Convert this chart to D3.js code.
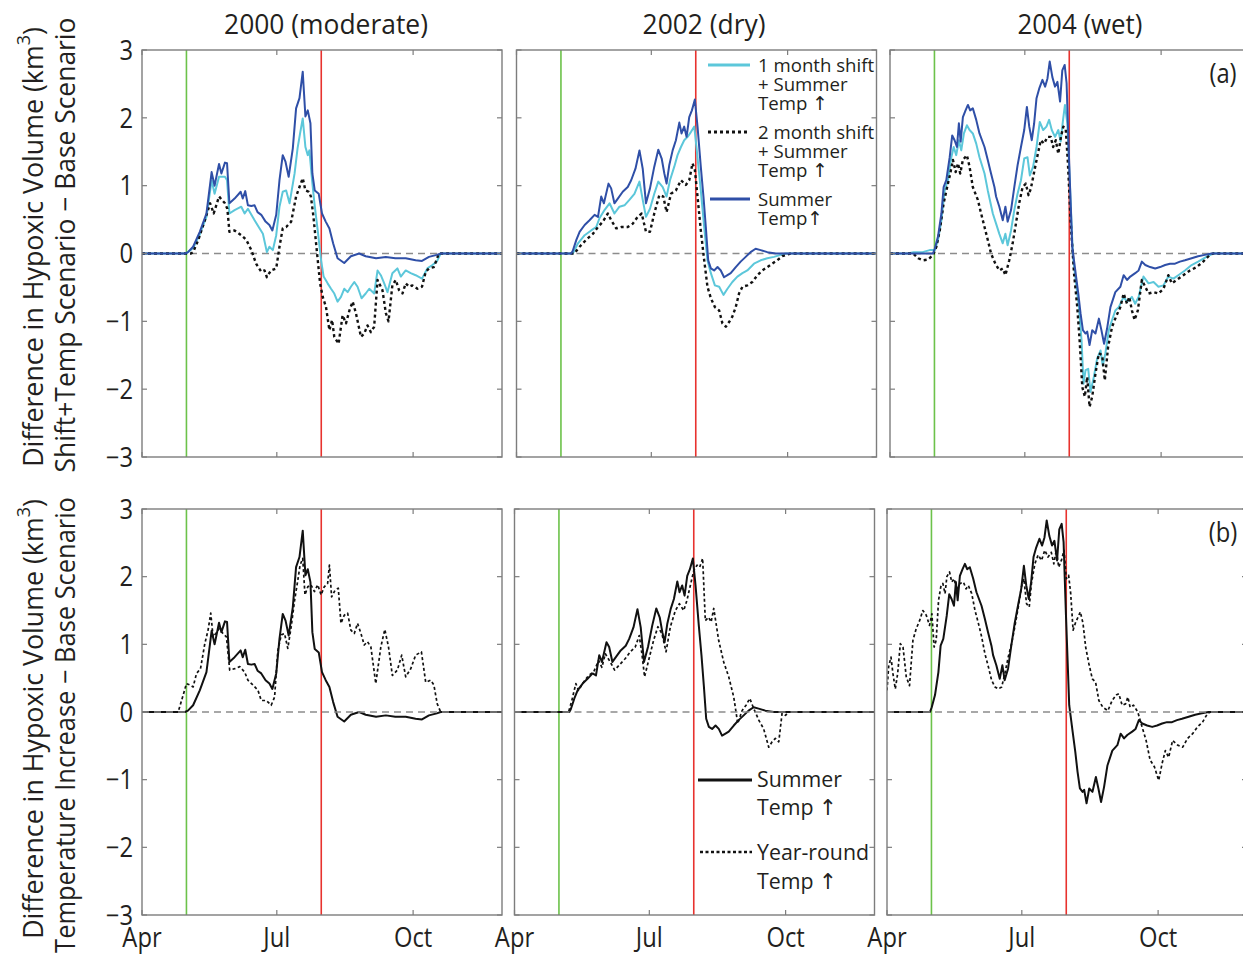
<!DOCTYPE html>
<html>
<head>
<meta charset="utf-8">
<script src="https://cdn.jsdelivr.net/npm/d3@7"></script>
<style>
  body { margin: 0; background: #fff; }
  svg text { font-family: "Open Sans", "DejaVu Sans", sans-serif; fill: #231f20; }
</style>
</head>
<body>
<svg id="chart" width="1243" height="955"></svg>
<script>
// ---- Axis settings (days counted from 1 April) ----
const xTickDays = [0, 91, 183];
const xTickLabels = ["Apr", "Jul", "Oct"];
const yTicks = [-3, -2, -1, 0, 1, 2, 3];
const yearTitles = ["2000 (moderate)", "2002 (dry)", "2004 (wet)"];
const onsetDay = 30;   // green marker
const endDay = 121;    // red marker

// ---- Difference in hypoxic volume (km^3), [day since Apr 1, value] ----
// Summer temperature increase only
const summer2000 = [[0,0],[29,0],[31,0.02],[34.5,0.1],[39,0.32],[43.5,0.59],[47,1.2],[49,1.0],[52,1.32],[53.6,1.18],[56,1.34],[57.4,1.33],[59,0.74],[62.5,0.81],[66.6,0.91],[68,0.81],[69.7,0.92],[71.5,0.71],[73.8,0.70],[76,0.71],[78,0.61],[80.5,0.57],[83.4,0.47],[86,0.42],[88,0.34],[90.6,0.57],[92.8,1.08],[95,1.45],[96.9,1.35],[99,1.13],[101.8,1.55],[104,2.14],[106.3,2.29],[108.5,2.68],[110.3,2.02],[111.9,2.11],[113.7,1.92],[115,1.18],[116.6,0.93],[119.3,0.88],[121.5,0.59],[124,0.47],[126.5,0.37],[129,0.15],[132,-0.07],[136.5,-0.14],[141,-0.04],[146.6,0],[151,-0.04],[158,-0.07],[164.6,-0.05],[171,-0.07],[178,-0.07],[184.7,-0.1],[189,-0.11],[193.7,-0.05],[199,-0.02],[201.6,0],[243,0]];
const summer2002 = [[0,0],[37,0],[38,0.04],[40.4,0.2],[42.6,0.32],[46,0.42],[49.3,0.49],[52.7,0.57],[55,0.54],[57.2,0.84],[59,0.74],[62.1,1.03],[63.9,0.96],[66.1,0.74],[68.4,0.81],[71.7,0.91],[75.1,0.98],[77.4,1.08],[80.3,1.25],[83,1.52],[85.2,1.25],[87.4,0.74],[90.1,0.96],[93,1.28],[95.7,1.53],[98,1.4],[99.8,1.18],[101.3,1.03],[103.1,1.3],[105.4,1.52],[107.6,1.67],[109.9,1.93],[111.4,1.77],[113.2,1.87],[114.8,1.72],[116.6,2.01],[118.4,2.11],[120.4,2.27],[122.2,1.87],[124.4,1.28],[126.2,0.84],[127.8,0.39],[129.4,-0.1],[131.2,-0.22],[133.4,-0.25],[135.7,-0.2],[137.9,-0.25],[140.1,-0.35],[142.4,-0.32],[144.6,-0.29],[148,-0.2],[151.3,-0.12],[154.7,-0.05],[158,0.02],[161.4,0.07],[164.8,0.05],[169.3,0.02],[174.9,0],[243,0]];
const summer2004 = [[0,0],[29,0],[30.2,0.07],[32.4,0.25],[34.7,0.59],[36.2,0.98],[38,1.08],[40.3,1.42],[42,1.74],[43.6,1.67],[45.2,1.57],[46.5,1.92],[47.7,1.65],[49.2,2.01],[51,2.11],[52.6,2.19],[54.1,2.11],[55.9,2.14],[58.2,1.97],[60.4,1.77],[63.8,1.57],[66,1.38],[68.2,1.18],[70.5,0.98],[71.6,0.84],[73.8,0.69],[76.1,0.49],[77.9,0.69],[79.4,0.47],[81.7,0.64],[83.9,0.98],[86.1,1.3],[88.4,1.57],[90.6,1.82],[92.4,2.16],[94,1.87],[95.7,1.67],[97.3,1.92],[98.9,2.29],[100.7,2.43],[102.9,2.56],[104.7,2.46],[106.3,2.58],[107.8,2.83],[109.6,2.6],[111.4,2.46],[113,2.53],[114.8,2.24],[116.3,2.7],[117.9,2.78],[119.2,2.51],[120.8,1.43],[123,0.1],[125.3,-0.29],[127.1,-0.59],[128.6,-0.88],[130.2,-1.13],[132,-1.18],[133.1,-1.15],[134.7,-1.35],[136.5,-1.13],[138.7,-1.18],[141,-0.96],[142.7,-1.13],[144.5,-1.33],[146.5,-1.11],[148.8,-0.79],[152.1,-0.57],[155.5,-0.49],[157.7,-0.32],[160,-0.39],[162.2,-0.34],[165.5,-0.29],[167.8,-0.25],[170,-0.12],[172.3,-0.17],[175.6,-0.2],[179,-0.22],[182.3,-0.2],[185.7,-0.17],[189,-0.15],[192.4,-0.15],[195.7,-0.12],[199.1,-0.1],[203.6,-0.07],[208,-0.04],[212.5,-0.02],[217,0],[243,0]];

// 1 month shift + summer temperature increase
const shift1m2000 = [[0,0],[30,0],[34.5,0.08],[39,0.28],[43.5,0.54],[47,1.08],[49,0.88],[52,1.13],[56,1.13],[57.4,1.08],[59,0.59],[62.5,0.64],[67,0.69],[69.3,0.59],[71.5,0.66],[76,0.49],[79.4,0.37],[81.6,0.29],[84.3,0.02],[86,0.1],[88.3,0.05],[90.6,0.27],[92.8,0.69],[95,0.91],[97.3,0.93],[99.6,0.74],[103,1.18],[105,1.55],[106.7,1.77],[108.5,1.99],[110.3,1.57],[111.9,1.45],[113,1.52],[114.8,1.08],[116.4,0.74],[118.6,0.34],[120.9,-0.1],[122.6,-0.34],[125.3,-0.44],[127.6,-0.52],[129.8,-0.59],[132,-0.71],[134.3,-0.64],[136.5,-0.52],[138.8,-0.57],[141,-0.49],[143.3,-0.42],[145.5,-0.49],[148.2,-0.66],[151,-0.59],[153.4,-0.52],[156.7,-0.59],[159,-0.25],[161.2,-0.32],[163.5,-0.44],[165.7,-0.57],[169,-0.29],[172.4,-0.22],[174.7,-0.34],[178,-0.25],[181.4,-0.29],[184.7,-0.32],[189,-0.37],[192.6,-0.22],[196,-0.17],[199,-0.12],[201.6,0],[243,0]];
const shift1m2002 = [[0,0],[38,0],[41.5,0.15],[46,0.27],[50.4,0.34],[53.8,0.39],[56,0.52],[59.4,0.64],[62.8,0.74],[66.1,0.59],[69.5,0.69],[72.9,0.71],[76.2,0.79],[79.6,0.88],[83,1.06],[85.2,0.79],[87.4,0.54],[90.1,0.66],[93,0.88],[95.7,1.06],[98.7,0.98],[101.3,0.84],[103.6,1.08],[106.5,1.28],[108.7,1.45],[111,1.57],[113.2,1.67],[115.5,1.72],[117.7,1.79],[120,1.87],[121.7,1.52],[124.4,0.93],[126.7,0.39],[128.9,-0.1],[131.2,-0.29],[133.9,-0.47],[136.8,-0.49],[139.7,-0.61],[142.4,-0.52],[145.7,-0.42],[149.1,-0.34],[152.5,-0.29],[155.8,-0.25],[160.3,-0.15],[164.8,-0.1],[169.3,-0.07],[173.8,-0.05],[178.3,-0.02],[181.6,0],[243,0]];
const shift1m2004 = [[0,0],[12,0],[16,0.02],[22,0.02],[26.8,0.05],[30.2,0.05],[32.4,0.2],[34.7,0.49],[36.9,0.93],[39.1,1.08],[41.4,1.42],[43,1.57],[44.7,1.45],[46.5,1.67],[48.1,1.52],[49.9,1.77],[51.9,1.89],[53.7,1.82],[55.9,1.77],[58.2,1.62],[60.4,1.42],[63.8,1.18],[66,0.93],[69.4,0.59],[71.6,0.44],[73.8,0.29],[76.1,0.15],[77.9,0.29],[79.4,0.12],[81.7,0.34],[83.9,0.64],[86.1,0.88],[88.4,1.08],[90.6,1.4],[92.8,1.42],[94.4,1.15],[96.6,1.28],[98.9,1.57],[101.1,1.94],[103.4,1.82],[105.6,1.87],[107.4,1.97],[109.2,1.82],[111.4,1.72],[113.6,1.82],[115.2,1.65],[116.8,1.97],[118.1,2.19],[119.7,1.92],[121.3,1.08],[123.5,-0.05],[125.3,-0.39],[127.5,-0.79],[129.3,-1.28],[130.6,-1.92],[132,-1.72],[133.8,-1.7],[135.3,-2.04],[137.6,-1.82],[139.8,-1.55],[142.1,-1.43],[143.6,-1.65],[145.4,-1.47],[147.7,-1.13],[149.9,-0.98],[152.1,-0.84],[154.4,-0.79],[157.7,-0.64],[160,-0.71],[163.3,-0.64],[165.5,-0.74],[167.8,-0.64],[171.1,-0.34],[174.5,-0.44],[177.9,-0.42],[181.2,-0.49],[184.6,-0.47],[187.9,-0.34],[191.3,-0.37],[194.6,-0.32],[199.1,-0.25],[203.6,-0.17],[208,-0.12],[213.6,-0.05],[218,0],[243,0]];

// 2 month shift + summer temperature increase
const shift2m2000 = [[0,0],[33,0],[34.5,0.02],[38,0.2],[42.4,0.49],[46,0.74],[48.4,0.59],[52,0.84],[56,0.74],[57.6,0.66],[59,0.32],[62.5,0.34],[67,0.27],[70.4,0.2],[73.8,0.05],[77,-0.15],[80.5,-0.27],[82.7,-0.25],[84.3,-0.35],[87,-0.25],[90.6,-0.22],[92.8,0.1],[95,0.37],[97.3,0.39],[100.7,0.47],[104,0.84],[106.3,0.98],[108.5,1.11],[110.3,0.93],[112.6,0.91],[114,0.84],[115.7,0.55],[117.5,0.15],[120.2,-0.44],[122,-0.64],[124.2,-0.79],[126.5,-1.13],[128.3,-0.98],[129.8,-1.23],[132.7,-1.33],[135.4,-0.91],[137.7,-1.03],[140,-0.84],[142.2,-0.71],[144.4,-0.88],[147.8,-1.23],[150,-1.18],[152.2,-1.06],[154.5,-1.16],[156.7,-1.08],[159,-0.39],[162.3,-0.54],[164.6,-0.88],[166.4,-1.0],[169,-0.47],[171.3,-0.39],[173.5,-0.54],[175.8,-0.59],[178,-0.44],[180.3,-0.49],[182.5,-0.47],[185.9,-0.52],[189,-0.49],[191.5,-0.27],[193.7,-0.22],[197,-0.2],[200.4,0],[243,0]];
const shift2m2002 = [[0,0],[39,0],[42.6,0.1],[47,0.2],[51.6,0.29],[55,0.39],[58.3,0.47],[61.7,0.59],[63.9,0.49],[67.3,0.37],[70.6,0.39],[75.1,0.39],[78.5,0.44],[81.8,0.54],[84.5,0.59],[87.4,0.32],[90.1,0.32],[93,0.59],[96.4,0.86],[99.1,0.84],[101.3,0.61],[104.3,0.88],[107.6,0.93],[111,1.08],[114.3,1.01],[116.6,1.08],[118.8,1.33],[120.4,1.23],[122.2,0.84],[124.4,0.34],[126.7,-0.1],[128.9,-0.49],[131.2,-0.66],[133.9,-0.79],[136.8,-0.84],[139,-1.03],[141.3,-1.08],[143.5,-1.01],[145.7,-0.93],[148,-0.79],[150.2,-0.59],[152.5,-0.49],[155.8,-0.47],[159.2,-0.42],[162.6,-0.32],[165.9,-0.25],[169.3,-0.2],[172.6,-0.15],[176,-0.1],[179.4,-0.04],[185,0],[243,0]];
const shift2m2004 = [[0,0],[15.7,0],[19,-0.07],[22.4,-0.1],[25.7,-0.09],[29.1,-0.02],[31.3,0.1],[33.6,0.34],[36.2,0.74],[39.1,1.03],[40.7,1.18],[42.5,1.38],[44.3,1.2],[45.9,1.33],[47.4,1.18],[49.2,1.38],[51.9,1.45],[53.7,1.28],[55.9,0.98],[59.3,0.79],[61.5,0.59],[63.8,0.39],[66,0.2],[68.2,0],[71.1,-0.15],[73.8,-0.25],[76.1,-0.22],[77.9,-0.32],[80.5,-0.1],[82.8,0.15],[85,0.44],[87.2,0.74],[89.5,0.98],[91.7,1.03],[93.5,0.86],[95.1,0.96],[97.3,1.2],[99.6,1.45],[101.8,1.67],[104,1.62],[106.3,1.72],[108.5,1.72],[110.1,1.57],[111.9,1.67],[113.6,1.47],[115.4,1.72],[117,1.87],[118.6,1.84],[120.1,1.33],[121.9,0.49],[124.2,-0.29],[126.4,-0.79],[128,-1.28],[129.8,-1.97],[131.5,-2.11],[133.1,-1.82],[134.7,-2.26],[136.5,-2.11],[138.7,-1.77],[141,-1.47],[143.2,-1.5],[145,-1.87],[147.2,-1.38],[149.9,-1.08],[152.6,-0.93],[155.5,-0.79],[157.7,-0.59],[160,-0.74],[161.5,-0.64],[163.3,-0.84],[165.1,-0.98],[167.3,-0.84],[170,-0.39],[172.3,-0.49],[174.5,-0.59],[177.9,-0.57],[181.2,-0.59],[184.6,-0.52],[187.9,-0.32],[190.2,-0.44],[193.5,-0.39],[198,-0.32],[202.5,-0.25],[207,-0.2],[211.4,-0.12],[215.9,-0.02],[218,0],[243,0]];

// Year-round temperature increase
const yearRound2000 = [[0,0],[24.4,0],[27.8,0.25],[30,0.42],[32.3,0.4],[34.5,0.37],[36.8,0.57],[39.5,0.64],[42.4,1.01],[44.6,1.21],[46.4,1.46],[48,1.11],[49.8,1.16],[52,1.23],[54.7,1.16],[57,1.11],[59.2,0.62],[62.6,0.64],[66,0.67],[69.3,0.59],[71.5,0.47],[74.9,0.4],[78.3,0.32],[80.5,0.17],[83.9,0.17],[87.2,0.1],[89.5,0.22],[91.7,0.91],[94,1.14],[96.2,1.16],[98.4,0.94],[100.7,1.26],[103,1.65],[105.2,1.95],[106.7,2.17],[108.5,2.27],[110,1.73],[111.9,1.85],[114,1.88],[116.4,1.78],[118.6,1.88],[120.9,1.73],[123,1.85],[125.3,1.9],[126.5,2.17],[128,1.7],[130.3,1.8],[132.5,1.83],[134.3,1.31],[136.5,1.43],[138.8,1.46],[141,1.21],[143.3,1.16],[145.5,1.31],[147.8,1.16],[150,0.99],[152.2,1.04],[154.5,0.96],[157.8,0.42],[161.2,0.96],[163.9,1.22],[166.4,0.96],[169,0.54],[172.4,0.62],[175.3,0.84],[178,0.52],[181.4,0.64],[184.7,0.84],[188.6,0.89],[191.5,0.44],[194.8,0.47],[197,0.4],[199.3,0.12],[201.6,0],[243,0]];
const yearRound2002 = [[0,0],[36.5,0],[38.7,0.17],[41.4,0.42],[43.2,0.32],[46.6,0.44],[50,0.54],[53.4,0.59],[56.8,0.76],[59,0.66],[61.3,0.86],[64.6,0.74],[67.6,0.62],[71.4,0.71],[74.8,0.79],[78.2,0.89],[81.5,0.96],[84.2,1.13],[86,0.86],[87.8,0.52],[90.5,0.76],[93.9,1.06],[96.8,1.26],[99.5,1.16],[102.3,0.89],[105.2,1.26],[108.6,1.5],[111.3,1.6],[114.2,1.5],[116.4,1.65],[118.7,1.87],[121,2.09],[123.2,2.17],[125,2.14],[127,2.27],[128.8,1.35],[131,1.4],[132.7,1.33],[134.5,1.53],[137.8,1.06],[141.2,0.74],[144.6,0.52],[148,0.22],[150.7,-0.17],[153.6,0.02],[156.3,0.1],[158.8,0.2],[161.5,0.05],[164.9,-0.12],[168.2,-0.25],[171.6,-0.52],[173.9,-0.44],[176.1,-0.39],[178.4,-0.44],[180.6,-0.02],[182.9,-0.05],[185,0],[243,0]];
const yearRound2004 = [[0,0.32],[1.1,0.67],[2.7,0.81],[4,0.57],[5.6,0.34],[7.2,0.57],[9,1.01],[10.8,0.96],[13,0.52],[15.2,0.39],[17.5,1.06],[19.7,1.23],[22,1.35],[24.2,1.5],[26.5,1.43],[28.7,1.28],[30.3,1.45],[31.8,0.96],[33.2,1.06],[34.8,1.65],[36.3,1.85],[37.7,1.9],[39.2,1.75],[40.4,2.0],[42.2,2.07],[43.7,1.92],[45.3,1.97],[47.1,1.8],[49.3,1.9],[51.6,1.92],[53.4,1.82],[54.9,1.87],[57.2,1.75],[59.4,1.5],[61.7,1.31],[63.9,1.11],[66.1,0.86],[68.4,0.67],[70.6,0.47],[72.9,0.37],[75.1,0.34],[77.4,0.37],[79.6,0.57],[81.8,0.81],[84.1,1.01],[86.3,1.26],[88.6,1.55],[90.8,1.85],[92.4,1.97],[94.2,1.6],[96,1.55],[97.5,1.9],[99.8,2.19],[102,2.32],[104.3,2.24],[106.5,2.39],[108.7,2.29],[110.9,2.36],[112.6,2.19],[114.3,2.39],[115.9,2.14],[117.7,2.24],[119.5,2.39],[121,1.97],[122.6,2.02],[124,1.75],[125.6,1.21],[127.4,1.33],[128.9,1.4],[130.5,1.48],[132.3,1.31],[134.1,0.96],[136.3,0.71],[138.6,0.49],[140.8,0.44],[143,0.17],[145.7,0.07],[149.1,0.02],[152,0.17],[154.7,0.25],[156.5,0.27],[158.7,0.1],[161,0.12],[162.6,0.22],[164.1,0.07],[166.4,0.1],[169.3,0],[171.5,-0.17],[174.9,-0.42],[177.6,-0.71],[180.5,-0.81],[183.4,-1.01],[185.7,-0.76],[187.9,-0.57],[190.1,-0.67],[192.8,-0.42],[196.2,-0.49],[199.6,-0.52],[202.9,-0.39],[206.3,-0.32],[209.6,-0.22],[213,-0.15],[216.4,-0.02],[218.6,0],[243,0]];

// ---- Layout ----
const W = 1243, H = 955;
const panelW = 360;
const rows = [
  { top: 50,  bottom: 457, lefts: [142, 516.5, 890] },
  { top: 509, bottom: 915, lefts: [142, 514.5, 887] }
];
const COND = 0.88;          // horizontal condensing of the text face
const C = {
  cyan: "#5cc7da", blue: "#2f4fa7", black: "#111",
  green: "#6cc24a", red: "#e8322e", frame: "#7d7d7d", zero: "#8c8c8c"
};

const svg = d3.select("#chart");
svg.append("rect").attr("width", W).attr("height", H).attr("fill", "#fff");

// text helper: condensed glyphs, optional rotation, optional width fit
function label(parent, x, y, str, size, anchor, opts = {}) {
  const g = parent.append("g");
  const t = g.append("text").attr("font-size", size).attr("text-anchor", anchor);
  if (opts.build) opts.build(t); else t.text(str);
  if (opts.dy) t.attr("dy", opts.dy);
  let sx = opts.cond || COND;
  if (opts.fit) sx = opts.fit / t.node().getComputedTextLength();
  g.attr("transform", `translate(${x},${y})` + (opts.rotate ? ` rotate(${opts.rotate})` : "") + ` scale(${sx},1)`);
  return t;
}

const fmt = v => (v < 0 ? "\u2212" + Math.abs(v) : String(v));

function drawPanel(rowIdx, colIdx, series, zeroOnTop) {
  const r = rows[rowIdx];
  const left = r.lefts[colIdx];
  const x = d3.scaleLinear().domain([0, 243]).range([left, left + panelW]);
  const y = d3.scaleLinear().domain([-3, 3]).range([r.bottom, r.top]);
  const g = svg.append("g");
  const clipId = `clip-${rowIdx}-${colIdx}`;
  svg.append("clipPath").attr("id", clipId).append("rect")
    .attr("x", left).attr("y", r.top).attr("width", panelW).attr("height", r.bottom - r.top);

  const zeroLine = () => g.append("line")
    .attr("x1", x(0)).attr("x2", x(243)).attr("y1", y(0)).attr("y2", y(0))
    .attr("stroke", C.zero).attr("stroke-width", 1.4).attr("stroke-dasharray", "7,5");

  // onset / end markers
  g.append("line").attr("x1", x(onsetDay)).attr("x2", x(onsetDay))
    .attr("y1", r.top).attr("y2", r.bottom).attr("stroke", C.green).attr("stroke-width", 1.6);
  g.append("line").attr("x1", x(endDay)).attr("x2", x(endDay))
    .attr("y1", r.top).attr("y2", r.bottom).attr("stroke", C.red).attr("stroke-width", 1.6);

  if (!zeroOnTop) zeroLine();

  const line = d3.line().x(d => x(d[0])).y(d => y(d[1]));
  const lg = g.append("g").attr("clip-path", `url(#${clipId})`);
  series.forEach(s => {
    lg.append("path").datum(s.data).attr("d", line)
      .attr("fill", "none").attr("stroke", s.color).attr("stroke-width", s.width)
      .attr("stroke-linejoin", "round")
      .attr("stroke-dasharray", s.dash || null);
  });

  if (zeroOnTop) zeroLine();

  // frame and inward ticks on all sides
  g.append("rect").attr("x", left).attr("y", r.top).attr("width", panelW).attr("height", r.bottom - r.top)
    .attr("fill", "none").attr("stroke", C.frame).attr("stroke-width", 1.4);
  const tl = 5;
  yTicks.forEach(v => {
    g.append("line").attr("x1", left).attr("x2", left + tl).attr("y1", y(v)).attr("y2", y(v)).attr("stroke", C.frame).attr("stroke-width", 1.2);
    g.append("line").attr("x1", left + panelW).attr("x2", left + panelW - tl).attr("y1", y(v)).attr("y2", y(v)).attr("stroke", C.frame).attr("stroke-width", 1.2);
  });
  xTickDays.forEach(v => {
    g.append("line").attr("x1", x(v)).attr("x2", x(v)).attr("y1", r.top).attr("y2", r.top + tl).attr("stroke", C.frame).attr("stroke-width", 1.2);
    g.append("line").attr("x1", x(v)).attr("x2", x(v)).attr("y1", r.bottom).attr("y2", r.bottom - tl).attr("stroke", C.frame).attr("stroke-width", 1.2);
  });

  if (colIdx === 0) {
    yTicks.forEach(v => label(svg, left - 9, y(v), fmt(v), 27, "end", { dy: "0.36em" }));
  }
  if (rowIdx === 1) {
    xTickDays.forEach((v, i) => label(svg, x(v), 947, xTickLabels[i], 27, "middle"));
  }
  return { x, y };
}

const years = [
  { summer: summer2000, s1: shift1m2000, s2: shift2m2000, yr: yearRound2000 },
  { summer: summer2002, s1: shift1m2002, s2: shift2m2002, yr: yearRound2002 },
  { summer: summer2004, s1: shift1m2004, s2: shift2m2004, yr: yearRound2004 }
];

years.forEach((yd, i) => {
  drawPanel(0, i, [
    { data: yd.s1, color: C.cyan, width: 2 },
    { data: yd.s2, color: C.black, width: 2.4, dash: "3,3" },
    { data: yd.summer, color: C.blue, width: 2 }
  ], false);
  drawPanel(1, i, [
    { data: yd.yr, color: C.black, width: 1.7, dash: "3,2.5" },
    { data: yd.summer, color: C.black, width: 2 }
  ], true);
});

// column titles
const titleX = [326, 704, 1080];
const titleW = [204, 123, 125];
yearTitles.forEach((t, i) => label(svg, titleX[i], 34, t, 27, "middle", { fit: titleW[i] }));

// y-axis titles
function yTitle(cx, cy, fitLen, line2, cx2, cy2, fit2) {
  label(svg, cx, cy, null, 27, "middle", {
    rotate: -90, fit: fitLen,
    build: t => {
      t.append("tspan").text("Difference in Hypoxic Volume (km");
      t.append("tspan").attr("font-size", 18).attr("dy", "-0.75em").text("3");
      t.append("tspan").attr("dy", "0.5em").text(")");
    }
  });
  label(svg, cx2, cy2, line2, 27, "middle", { rotate: -90, fit: fit2 });
}
yTitle(43, 247, 440, "Shift+Temp Scenario \u2212 Base Scenario", 75, 245, 455);
yTitle(43, 719, 440, "Temperature Increase \u2212 Base Scenario", 75, 725, 456);

// panel tags
label(svg, 1223, 83, "(a)", 27, "middle");
label(svg, 1223, 542, "(b)", 27, "middle");

// legend entries: one sample line plus a multi-line text block
function legendEntry(g, x1, x2, yLine, color, width, dash, lines, tx, firstBase, lineGap, size, cond) {
  g.append("line").attr("x1", x1).attr("x2", x2).attr("y1", yLine).attr("y2", yLine)
    .attr("stroke", color).attr("stroke-width", width).attr("stroke-dasharray", dash || null);
  label(g, tx, firstBase, null, size, "start", {
    cond: cond,
    build: t => lines.forEach((s, i) => {
      const sp = t.append("tspan").attr("x", 0).attr("dy", i === 0 ? 0 : lineGap);
      const arrow = s.indexOf("\u2191");
      if (arrow >= 0) {
        sp.text(s.slice(0, arrow));
        t.append("tspan").attr("font-family", "DejaVu Sans").text("\u2191");
      } else sp.text(s);
    })
  });
}
const legTop = svg.append("g");
legendEntry(legTop, 708, 750, 65, C.cyan, 3, null, ["1 month shift", "+ Summer", "Temp \u2191"], 758, 72, 18.8, 19, 0.98);
legendEntry(legTop, 708, 750, 132, C.black, 3, "3,3", ["2 month shift", "+ Summer", "Temp \u2191"], 758, 139, 18.8, 19, 0.98);
legendEntry(legTop, 710, 750, 199, C.blue, 3, null, ["Summer", "Temp\u2191"], 758, 206, 18.8, 19, 0.98);

const legBot = svg.append("g");
legendEntry(legBot, 698, 752, 780, C.black, 3, null, ["Summer", "Temp \u2191"], 757, 787, 28.5, 22, 0.97);
legendEntry(legBot, 700, 752, 852, C.black, 2.5, "3,2.5", ["Year-round", "Temp \u2191"], 757, 860, 29, 22, 0.97);
</script>
</body>
</html>
